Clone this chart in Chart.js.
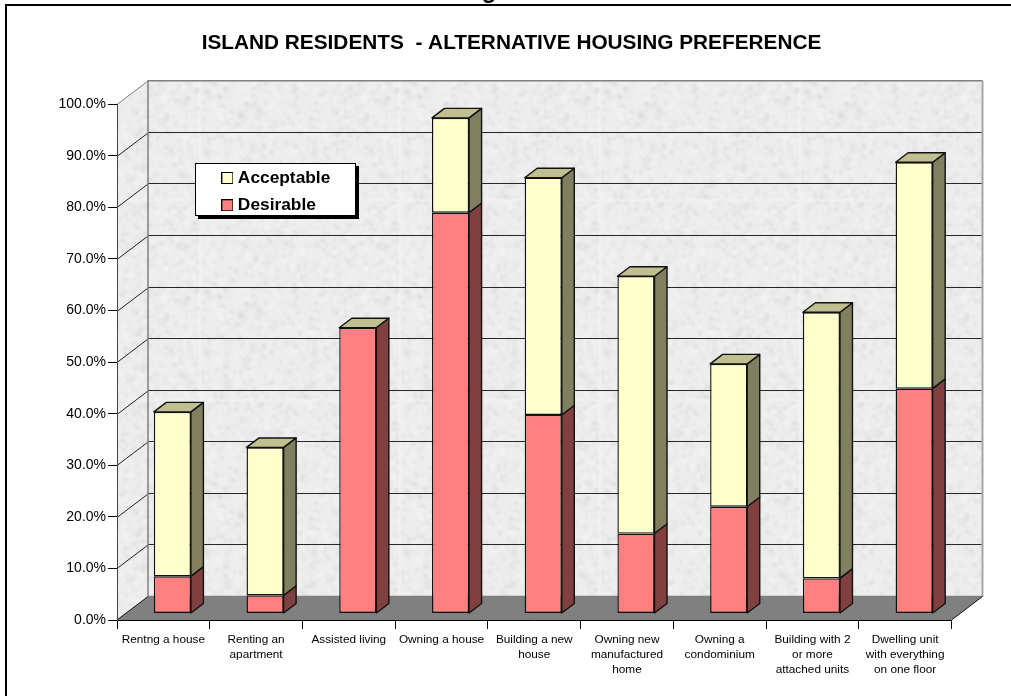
<!DOCTYPE html>
<html>
<head>
<meta charset="utf-8">
<style>html,body{margin:0;padding:0;background:#fff}canvas{display:block}</style>
<script src="https://cdn.jsdelivr.net/npm/chart.js@4"></script>
</head>
<body>
<canvas id="c" width="1011" height="696"></canvas>
<script>
const categories = [
  "Rentng a house",
  ["Renting an", "apartment"],
  "Assisted living",
  "Owning a house",
  ["Building a new", "house"],
  ["Owning new", "manufactured", "home"],
  ["Owning a", "condominium"],
  ["Building with 2", "or more", "attached units"],
  ["Dwelling unit", "with everything", "on one floor"]
];
const desirable  = [7.2, 3.5, 55.4, 77.7, 38.5, 15.5, 20.7, 6.8, 43.6];
const acceptable = [31.9, 28.7, 0, 18.4, 46.0, 49.9, 27.7, 51.6, 43.9];
const titleText = "ISLAND RESIDENTS  - ALTERNATIVE HOUSING PREFERENCE";

const FONT = '"Liberation Sans", Arial, sans-serif';
const WALL = {dx: 31, dy: -23.5};     // depth of the chart box
const BAR_OFF = {dx: 9, dy: -6.5};    // bars stand mid-floor
const BAR_D = {dx: 12.5, dy: -9.5};   // depth of a bar

function wallPattern(ctx) {
  const base = document.createElement('canvas');
  base.width = base.height = 200;
  const b = base.getContext('2d');
  b.fillStyle = '#ededed';
  b.fillRect(0, 0, 200, 200);
  let s = 12345;
  const next = () => (s = (s * 1103515245 + 12345) & 0x7fffffff) / 0x7fffffff;
  for (let i = 0; i < 2400; i++) {
    const shade = next() < 0.5 ? 212 : 250;
    b.fillStyle = `rgba(${shade},${shade},${shade},0.35)`;
    b.fillRect(next() * 200, next() * 200, 1 + next() * 4, 1 + next() * 4);
  }
  const soft = document.createElement('canvas');
  soft.width = soft.height = 200;
  const t = soft.getContext('2d');
  t.filter = 'blur(1px)';
  for (const ox of [-200, 0, 200]) for (const oy of [-200, 0, 200]) t.drawImage(base, ox, oy);
  return ctx.createPattern(soft, 'repeat');
}

function swatch(color) {
  const k = document.createElement('canvas');
  k.width = k.height = 12;
  const g = k.getContext('2d');
  g.fillStyle = '#000';
  g.fillRect(0, 0, 12, 12);
  g.fillStyle = color;
  g.fillRect(1, 1, 10, 10);
  return k;
}

const LEGEND_BOX = {x: 195, y: 163, w: 161, h: 53};

const box3d = {
  id: 'box3d',
  afterLayout(chart) {
    const l = chart.legend;
    l.left = 215.5; l.top = 159.3; l.width = 140; l.height = 70;
    l.right = l.left + l.width; l.bottom = l.top + l.height;
    const t = chart.titleBlock;
    t.left = 0; t.right = 1023; t.width = 1023;
  },
  beforeDraw(chart) {
    const {ctx, scales: {x, y}} = chart;
    const L = x.left, R = x.right, B = y.bottom, T = y.top;
    const {dx, dy} = WALL;
    ctx.save();
    ctx.fillStyle = '#000';
    ctx.fillRect(5, 4, 2, 692);
    ctx.fillRect(5, 4, 1006, 2);
    const pat = wallPattern(ctx);
    ctx.fillStyle = pat;
    ctx.fillRect(L + dx, T + dy, R - L, B - T);
    ctx.beginPath();
    ctx.moveTo(L, B); ctx.lineTo(L + dx, B + dy); ctx.lineTo(L + dx, T + dy); ctx.lineTo(L, T);
    ctx.closePath(); ctx.fill();
    // floor
    ctx.fillStyle = '#808080';
    ctx.beginPath();
    ctx.moveTo(L, B); ctx.lineTo(L + dx, B + dy); ctx.lineTo(R + dx, B + dy); ctx.lineTo(R, B);
    ctx.closePath(); ctx.fill();
    // wall gridlines from the value scale
    ctx.lineWidth = 1;
    y.ticks.forEach(t => {
      const py = Math.round(y.getPixelForValue(t.value)) + 0.5;
      if (t.value === 0) return;
      ctx.strokeStyle = '#262626';
      if (t.value < 100) {
        ctx.beginPath();
        ctx.moveTo(L + dx, Math.round(py + dy) - 0.5); ctx.lineTo(R + dx, Math.round(py + dy) - 0.5);
        ctx.stroke();
      }
      ctx.beginPath();
      ctx.moveTo(L, py); ctx.lineTo(L + dx, py + dy);
      ctx.strokeStyle = t.value === 100 ? '#808080' : '#222';
      ctx.stroke();
    });
    // wall edges
    ctx.strokeStyle = '#808080';
    ctx.lineWidth = 1.5;
    ctx.beginPath();
    ctx.moveTo(L + dx, B + dy); ctx.lineTo(L + dx, T + dy); ctx.lineTo(R + dx, T + dy);
    ctx.moveTo(L + dx, B + dy); ctx.lineTo(R + dx, B + dy);
    ctx.stroke();
    ctx.strokeStyle = '#a6a6a6';
    ctx.lineWidth = 2;
    ctx.beginPath();
    ctx.moveTo(R + dx, T + dy); ctx.lineTo(R + dx, B + dy);
    ctx.stroke();
    ctx.strokeStyle = '#111';
    ctx.lineWidth = 1;
    ctx.beginPath();
    ctx.moveTo(L, B); ctx.lineTo(L + dx, B + dy);
    ctx.moveTo(R, B); ctx.lineTo(R + dx, B + dy);
    ctx.stroke();
    // legend backing
    const b = LEGEND_BOX;
    ctx.fillStyle = '#000';
    ctx.fillRect(b.x + 3, b.y + 3, b.w, b.h);
    ctx.fillStyle = '#fff';
    ctx.fillRect(b.x, b.y, b.w, b.h);
    ctx.strokeStyle = '#000';
    ctx.lineWidth = 1;
    ctx.strokeRect(b.x + 0.5, b.y + 0.5, b.w - 1, b.h - 1);
    ctx.restore();
  },
  beforeDatasetDraw(chart) {
    chart.ctx.save();
    chart.ctx.translate(BAR_OFF.dx, BAR_OFF.dy);
  },
  afterDatasetDraw(chart, args) {
    const {ctx} = chart;
    const ds = chart.data.datasets[args.index];
    const {dx, dy} = BAR_D;
    ctx.lineWidth = 1.4;
    ctx.strokeStyle = '#111';
    ctx.lineJoin = 'round';
    args.meta.data.forEach(el => {
      const r = el.x + el.width / 2, l = el.x - el.width / 2;
      const top = el.y, bot = el.base;
      if (bot - top > 0) {
        ctx.fillStyle = ds.sideColor;
        ctx.beginPath();
        ctx.moveTo(r, bot); ctx.lineTo(r + dx, bot + dy); ctx.lineTo(r + dx, top + dy); ctx.lineTo(r, top);
        ctx.closePath(); ctx.fill(); ctx.stroke();
      }
      if (ds.capColor) {
        ctx.fillStyle = ds.capColor;
        ctx.beginPath();
        ctx.moveTo(l, top); ctx.lineTo(l + dx, top + dy); ctx.lineTo(r + dx, top + dy); ctx.lineTo(r, top);
        ctx.closePath(); ctx.fill(); ctx.stroke();
      }
    });
    ctx.restore();
  },
  afterDraw(chart) {
    const {ctx} = chart;
    ctx.save();
    ctx.fillStyle = '#000';
    ctx.font = 'bold 24px ' + FONT;
    ctx.textAlign = 'center';
    ctx.textBaseline = 'alphabetic';
    ctx.fillText('g', 489, -2);
    ctx.restore();
  }
};

new Chart(document.getElementById('c'), {
  type: 'bar',
  data: {
    labels: categories,
    datasets: [
      {label: 'Desirable', data: desirable, backgroundColor: '#FF8080', borderColor: '#111',
       borderWidth: 1.4, borderSkipped: false, sideColor: '#804040', clip: false},
      {label: 'Acceptable', data: acceptable, backgroundColor: '#FFFFCC', borderColor: '#111',
       borderWidth: 1.4, borderSkipped: false, sideColor: '#808060', capColor: '#BFBF90', clip: false}
    ]
  },
  options: {
    responsive: false,
    animation: false,
    events: [],
    layout: {padding: {left: 0, top: 0, right: 59.5, bottom: 0}},
    barPercentage: 0.4,
    categoryPercentage: 1,
    plugins: {
      title: {
        display: true, text: titleText, color: '#000',
        font: {family: FONT, size: 20.8, weight: 'bold', lineHeight: 1.2},
        padding: {top: 30.5, bottom: 47.8}
      },
      legend: {
        display: true, position: 'top', align: 'start', maxHeight: 1,
        labels: {
          color: '#000', padding: 10,
          font: {family: FONT, size: 17.33, weight: 'bold'},
          usePointStyle: true, pointStyleWidth: 3.7, boxHeight: 11,
          generateLabels(chart) {
            return chart.data.datasets.map((d, i) => ({
              text: d.label, datasetIndex: i, fontColor: '#000', lineWidth: 0,
              pointStyle: swatch(d.backgroundColor), hidden: false
            })).reverse();
          }
        }
      },
      tooltip: {enabled: false}
    },
    scales: {
      x: {
        stacked: true,
        afterFit(s) { s.height = 76; },
        grid: {display: true, drawOnChartArea: false, drawTicks: true, tickLength: 9, color: '#000', offset: true},
        border: {display: true, color: '#000', width: 1},
        ticks: {autoSkip: false, maxRotation: 0, minRotation: 0, padding: 3, color: '#000',
                font: {family: FONT, size: 11.8, lineHeight: 1.27}}
      },
      y: {
        stacked: true, min: 0, max: 100,
        afterFit(s) { s.width = 117; },
        grid: {display: true, drawOnChartArea: false, drawTicks: true, tickLength: 9, color: '#000'},
        border: {display: true, color: '#444', width: 1},
        ticks: {stepSize: 10, padding: 2, color: '#000', font: {family: FONT, size: 14},
                callback: v => v.toFixed(1) + '%'}
      }
    }
  },
  plugins: [box3d]
});
</script>
</body>
</html>
